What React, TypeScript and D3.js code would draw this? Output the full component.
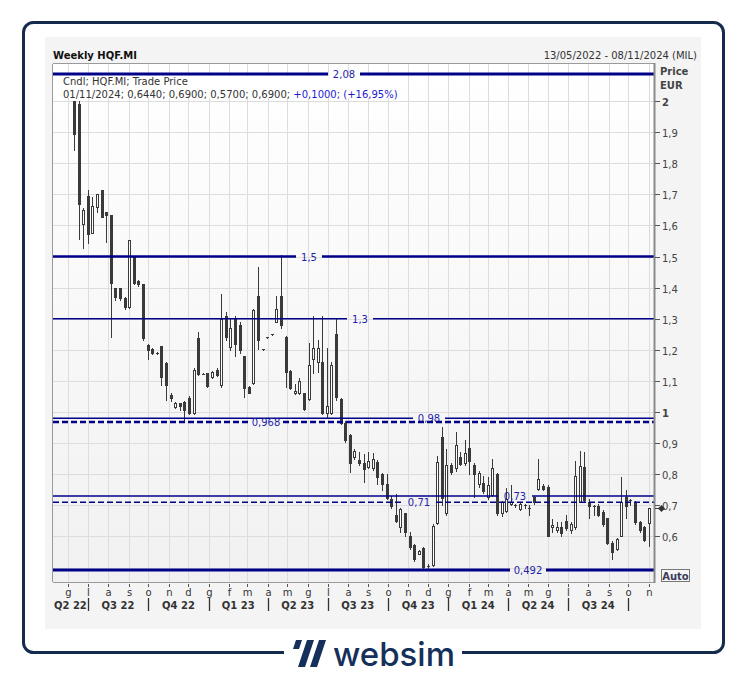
import React from "react";
import * as d3 from "d3";

// ---- data (weekly candles, HQF.MI, EUR) ----
const firstWeek = "2022-06-10";
const openP = [
  2.0, 1.99, 1.604, 1.695, 1.575, 1.658, 1.714, 1.642, 1.633, 1.398,
  1.4, 1.366, 1.339, 1.5, 1.422, 1.411, 1.215, 1.203, 1.19, 1.212,
  1.158, 1.055, 1.017, 1.029, 1.033, 1.045, 0.998, 1.237, 1.123, 1.125,
  1.111, 1.135, 1.087, 1.31, 1.21, 1.3, 1.28, 1.18, 1.081, 1.094,
  1.373, 1.202, 1.24, 1.25, 1.29, 1.373, 1.24, 1.132, 1.06, 1.06,
  1.06, 1.041, 1.17, 1.162, 1.162, 0.998, 0.998, 1.25, 1.041, 0.966,
  0.926, 0.856, 0.846, 0.837, 0.824, 0.819, 0.84, 0.8, 0.768, 0.719,
  0.669, 0.631, 0.674, 0.6, 0.572, 0.545, 0.562, 0.504, 0.508, 0.642,
  0.921, 0.674, 0.83, 0.819, 0.854, 0.835, 0.883, 0.83, 0.768, 0.771,
  0.727, 0.733, 0.8, 0.674, 0.683, 0.704, 0.7, 0.687, 0.7, 0.69,
  0.728, 0.752, 0.762, 0.758, 0.629, 0.619, 0.631, 0.65, 0.619, 0.629,
  0.712, 0.824, 0.712, 0.697, 0.698, 0.68, 0.658, 0.58, 0.559, 0.602,
  0.726, 0.715, 0.71, 0.645, 0.63, 0.644,
];
const highP = [
  2.0, 2.0, 1.655, 1.714, 1.692, 1.7, 1.714, 1.642, 1.633, 1.4,
  1.4, 1.37, 1.553, 1.5, 1.425, 1.411, 1.22, 1.205, 1.193, 1.212,
  1.16, 1.06, 1.033, 1.03, 1.035, 1.05, 1.14, 1.258, 1.124, 1.127,
  1.132, 1.14, 1.38, 1.32, 1.3, 1.31, 1.29, 1.18, 1.085, 1.33,
  1.467, 1.203, 1.241, 1.251, 1.373, 1.505, 1.245, 1.135, 1.09, 1.11,
  1.06, 1.223, 1.309, 1.231, 1.309, 1.205, 1.16, 1.3, 1.045, 0.97,
  0.93, 0.88, 0.87, 0.866, 0.87, 0.867, 0.845, 0.805, 0.8, 0.73,
  0.736, 0.69, 0.675, 0.615, 0.575, 0.556, 0.565, 0.51, 0.64, 0.859,
  0.951, 0.88, 0.835, 0.935, 0.87, 0.91, 0.974, 0.835, 0.81, 0.793,
  0.79, 0.848, 0.805, 0.715, 0.755, 0.765, 0.705, 0.71, 0.705, 0.7,
  0.73, 0.848, 0.77, 0.765, 0.655, 0.645, 0.645, 0.67, 0.645, 0.843,
  0.876, 0.872, 0.72, 0.7, 0.705, 0.685, 0.66, 0.585, 0.595, 0.79,
  0.75, 0.72, 0.715, 0.65, 0.635, 0.69,
];
const lowP = [
  1.842, 1.557, 1.527, 1.543, 1.575, 1.643, 1.628, 1.548, 1.24, 1.36,
  1.36, 1.33, 1.335, 1.41, 1.405, 1.23, 1.17, 1.185, 1.188, 1.087,
  1.04, 1.035, 1.012, 1.006, 0.969, 0.995, 0.995, 1.12, 1.121, 1.08,
  1.108, 1.115, 1.08, 1.23, 1.2, 1.18, 1.19, 1.049, 1.06, 1.09,
  1.202, 1.2, 1.238, 1.248, 1.288, 1.27, 1.081, 1.075, 1.058, 1.058,
  1.005, 1.04, 1.125, 1.13, 0.995, 0.98, 0.995, 1.04, 0.96, 0.905,
  0.808, 0.85, 0.83, 0.776, 0.82, 0.815, 0.77, 0.75, 0.72, 0.69,
  0.645, 0.615, 0.6, 0.56, 0.52, 0.545, 0.492, 0.492, 0.505, 0.64,
  0.7, 0.67, 0.8, 0.81, 0.83, 0.83, 0.8, 0.728, 0.76, 0.74,
  0.72, 0.73, 0.67, 0.665, 0.68, 0.7, 0.695, 0.685, 0.69, 0.67,
  0.705, 0.75, 0.75, 0.6, 0.615, 0.615, 0.6, 0.62, 0.61, 0.625,
  0.71, 0.715, 0.658, 0.67, 0.665, 0.635, 0.575, 0.526, 0.555, 0.6,
  0.66, 0.7, 0.64, 0.615, 0.585, 0.57,
];
const closeP = [
  1.893, 1.669, 1.649, 1.572, 1.662, 1.7, 1.628, 1.633, 1.416, 1.371,
  1.366, 1.339, 1.553, 1.416, 1.411, 1.237, 1.199, 1.19, 1.191, 1.114,
  1.087, 1.044, 1.03, 1.019, 1.006, 0.998, 1.135, 1.121, 1.122, 1.084,
  1.13, 1.119, 1.3, 1.24, 1.27, 1.22, 1.2, 1.078, 1.062, 1.328,
  1.231, 1.201, 1.239, 1.249, 1.33, 1.28, 1.13, 1.078, 1.069, 1.1,
  1.009, 1.151, 1.205, 1.205, 0.998, 1.02, 1.151, 1.049, 0.966, 0.91,
  0.837, 0.875, 0.837, 0.816, 0.843, 0.848, 0.79, 0.77, 0.722, 0.698,
  0.65, 0.687, 0.615, 0.567, 0.526, 0.552, 0.503, 0.506, 0.633, 0.84,
  0.723, 0.83, 0.808, 0.894, 0.833, 0.869, 0.843, 0.8, 0.803, 0.745,
  0.765, 0.819, 0.674, 0.712, 0.72, 0.712, 0.701, 0.704, 0.698, 0.691,
  0.712, 0.784, 0.752, 0.6, 0.637, 0.631, 0.612, 0.626, 0.64, 0.794,
  0.826, 0.717, 0.698, 0.698, 0.669, 0.64, 0.578, 0.551, 0.591, 0.712,
  0.698, 0.716, 0.645, 0.621, 0.59, 0.69,
];

const refValues = [2.087, 1.5, 1.3, 0.98, 0.968, 0.73, 0.71, 0.492];
const refLabels = ["2,08", "1,5", "1,3", "0,98", "0,968", "0,73", "0,71", "0,492"];
const yTickValues = [0.6, 0.7, 0.8, 0.9, 1.0, 1.1, 1.2, 1.3, 1.4, 1.5, 1.6, 1.7, 1.8, 1.9, 2.0];
const gridValues = [0.5, 0.6, 0.7, 0.8, 0.9, 1.0, 1.1, 1.2, 1.3, 1.4, 1.5, 1.6, 1.7, 1.8, 1.9, 2.0];
const monthInitials = ["g", "f", "m", "a", "m", "g", "l", "a", "s", "o", "n", "d"];
const titleText = "Weekly HQF.MI";
const rangeText = "13/05/2022 - 08/11/2024 (MIL)";
const legendLine1 = "Cndl; HQF.MI; Trade Price";
const legendLine2a = "01/11/2024; 0,6440; 0,6900; 0,5700; 0,6900; ";
const legendLine2b = "+0,1000; (+16,95%)";
const lastPrice = 0.69;

const FONT = "'DejaVu Sans', Verdana, sans-serif";
const FS = 10;

export default function App() {
  const W = 746;
  const H = 675;
  const plot = { l: 53, r: 654, t: 64, b: 582 };
  const x = d3.scaleTime().domain([new Date(2022, 4, 9), new Date(2024, 10, 9)]).range([plot.l, plot.r]);
  const y = d3.scaleLinear().domain([1, 2]).range([412, 101]);
  const start = d3.timeParse("%Y-%m-%d")(firstWeek) as Date;
  const dates = openP.map((_, i) => d3.timeDay.offset(start, i * 7));

  const months = d3.timeMonth.range(new Date(2022, 5, 1), new Date(2024, 11, 1));
  const quarters = d3.timeMonth.every(3)!.range(new Date(2022, 3, 1), new Date(2025, 0, 1));

  const fmtNum = (v: number) => (Math.abs(v - Math.round(v)) < 1e-9 ? String(Math.round(v)) : v.toFixed(1).replace(".", ","));

  const lineStyles = [
    { w: 3, dash: undefined as string | undefined, lx: 344, gap: 16 },
    { w: 2.5, dash: undefined, lx: 309, gap: 13 },
    { w: 1.4, dash: undefined, lx: 360, gap: 13 },
    { w: 1.4, dash: undefined, lx: 429, gap: 16 },
    { w: 2.6, dash: "6,3", lx: 266, gap: 17 },
    { w: 1.4, dash: undefined, lx: 515, gap: 17 },
    { w: 1.4, dash: "6,3", lx: 419, gap: 17 },
    { w: 3, dash: undefined, lx: 528, gap: 18 },
  ];
  const navy = "#000088";
  const labelBlue = "#1f1fa8";
  const textGray = "#333333";

  return (
    <svg width={W} height={H} style={{ position: "absolute", left: 0, top: 0 }} fontFamily={FONT}>
      <defs>
        <linearGradient id="plotbg" x1="0" y1="0" x2="0" y2="1">
          <stop offset="0" stopColor="#ffffff" />
          <stop offset="1" stopColor="#f1f1f1" />
        </linearGradient>
      </defs>
      <rect x={0} y={0} width={W} height={H} fill="#ffffff" />
      {/* outer frame */}
      <rect x={23.5} y={22.5} width={700} height={630} rx={10} fill="#ffffff" stroke="#142b4d" strokeWidth={3} />
      <rect x={284} y={648} width={178} height={10} fill="#ffffff" />
      {/* logo */}
      <g fill="#15305a">
        <polygon points="296,640 302,640 299,649 293,649" />
        <polygon points="307,640 314,640 305,667 298,667" />
        <polygon points="319,640 326,640 317,667 310,667" />
        <text x={333} y={666} fontFamily="Inter, 'Open Sans', sans-serif" fontSize={33} fontWeight={500} fill="#15305a">websim</text>
      </g>
      {/* gray panel */}
      <rect x={45} y={37} width={656} height={592} fill="#f4f4f4" />
      {/* header */}
      <text x={53} y={59} fontSize={FS} fontWeight="bold" fill="#111">{titleText}</text>
      <text x={697} y={59} fontSize={FS} textAnchor="end" fill={textGray}>{rangeText}</text>
      {/* plot area */}
      <rect x={plot.l} y={plot.t} width={plot.r - plot.l} height={plot.b - plot.t} fill="url(#plotbg)" />
      {gridValues.map((v) => (
        <line key={"hg" + v} x1={plot.l} x2={plot.r} y1={Math.round(y(v)) + 0.5} y2={Math.round(y(v)) + 0.5} stroke="#dddddd" strokeWidth={1} />
      ))}
      {months.map((m) => (
        <line key={"vg" + +m} x1={Math.round(x(m)) + 0.5} x2={Math.round(x(m)) + 0.5} y1={plot.t} y2={plot.b} stroke="#dddddd" strokeWidth={1} />
      ))}
      {/* legend box */}
      <rect x={55} y={76} width={340} height={22} fill="#ffffff" />
      <text x={63} y={85} fontSize={FS} fill={textGray}>{legendLine1}</text>
      <text x={63} y={98} fontSize={FS} fill={textGray}>
        {legendLine2a}
        <tspan fill="#1a1ad0">{legendLine2b}</tspan>
      </text>
      {/* candles */}
      {dates.map((d, i) => {
        const cx = Math.round(x(d));
        const o = openP[i], c = closeP[i], h = highP[i], l = lowP[i];
        const yo = y(o), yc = y(c), yh = y(h), yl = y(l);
        const top = Math.round(Math.min(yo, yc));
        const bot = Math.round(Math.max(yo, yc));
        const up = c >= o;
        return (
          <g key={"c" + i}>
            <line x1={cx + 0.5} x2={cx + 0.5} y1={Math.round(yh)} y2={Math.round(yl) + 1} stroke="#3a3a3a" strokeWidth={1} />
            {bot - top < 2 ? (
              <rect x={cx - 1} y={top} width={3} height={1} fill="#3a3a3a" />
            ) : up ? (
              <rect x={cx - 0.5} y={top + 0.5} width={2} height={bot - top} fill="#ffffff" stroke="#3a3a3a" strokeWidth={1} />
            ) : (
              <rect x={cx - 1} y={top} width={3} height={bot - top + 1} fill="#3a3a3a" />
            )}
          </g>
        );
      })}
      {/* reference lines */}
      {refValues.map((v, i) => {
        const s = lineStyles[i];
        const yy = y(v);
        return (
          <g key={"ref" + i}>
            <line x1={plot.l} x2={s.lx - s.gap} y1={yy} y2={yy} stroke={navy} strokeWidth={s.w} strokeDasharray={s.dash} />
            <line x1={s.lx + s.gap} x2={plot.r} y1={yy} y2={yy} stroke={navy} strokeWidth={s.w} strokeDasharray={s.dash} />
            <text x={s.lx} y={yy + 4} fontSize={FS} textAnchor="middle" fill={labelBlue}>{refLabels[i]}</text>
          </g>
        );
      })}
      {/* plot borders */}
      <line x1={plot.l - 0.5} x2={plot.l - 0.5} y1={plot.t} y2={plot.b} stroke="#9a9a9a" />
      <line x1={plot.l} x2={plot.r} y1={plot.t - 0.5} y2={plot.t - 0.5} stroke="#9a9a9a" />
      <line x1={plot.l} x2={plot.r} y1={plot.b + 0.5} y2={plot.b + 0.5} stroke="#9a9a9a" />
      <line x1={plot.r + 0.5} x2={plot.r + 0.5} y1={plot.t - 1} y2={plot.b + 1} stroke="#8a8a8a" strokeWidth={2} />
      {/* right axis */}
      <text x={660} y={75} fontSize={FS} fontWeight="bold" fill="#444">Price</text>
      <text x={660} y={89} fontSize={FS} fontWeight="bold" fill="#444">EUR</text>
      {yTickValues.map((v) => {
        const yy = Math.round(y(v)) + 0.5;
        const isInt = Math.abs(v - Math.round(v)) < 1e-9;
        return (
          <g key={"yt" + v}>
            <line x1={plot.r + 1} x2={plot.r + 6} y1={yy} y2={yy} stroke="#555" />
            <text x={662} y={yy + 4} fontSize={FS} fontWeight={isInt ? "bold" : "normal"} fill="#444">{fmtNum(v)}</text>
          </g>
        );
      })}
      {/* last price marker */}
      <line x1={plot.r + 1} x2={plot.r + 5} y1={y(lastPrice)} y2={y(lastPrice)} stroke="#333" />
      <polygon
        points={`${plot.r + 4},${y(lastPrice)} ${plot.r + 7.5},${y(lastPrice) - 3.5} ${plot.r + 11},${y(lastPrice)} ${plot.r + 7.5},${y(lastPrice) + 3.5}`}
        fill="#333"
      />
      {/* Auto box */}
      <rect x={661.5} y={569.5} width={28} height={12} fill="#f4f4f4" stroke="#777" />
      <text x={675.5} y={579.5} fontSize={FS} fontWeight="bold" textAnchor="middle" fill="#3b3b5a">Auto</text>
      {/* x axis months */}
      {months.map((m) => {
        const xx = Math.round(x(m)) + 0.5;
        return (
          <g key={"mt" + +m}>
            <line x1={xx} x2={xx} y1={584} y2={587} stroke="#555" />
            <text x={xx} y={596} fontSize={FS} textAnchor="middle" fill={textGray}>{monthInitials[m.getMonth()]}</text>
          </g>
        );
      })}
      {quarters.map((q, i) => {
        const next = d3.timeMonth.offset(q, 3);
        const xs = x(q);
        const s = Math.max(xs, plot.l);
        const e = Math.min(x(next), plot.r);
        const label = `Q${Math.floor(q.getMonth() / 3) + 1} ${String(q.getFullYear()).slice(2)}`;
        return (
          <g key={"q" + i}>
            {xs > plot.l && xs < plot.r ? (
              <line x1={Math.round(xs) + 0.5} x2={Math.round(xs) + 0.5} y1={598} y2={611} stroke="#333" strokeWidth={1.3} />
            ) : null}
            {e - s > 30 ? (
              <text x={(s + e) / 2} y={609} fontSize={FS} fontWeight="bold" textAnchor="middle" fill={textGray}>{label}</text>
            ) : null}
          </g>
        );
      })}
    </svg>
  );
}
